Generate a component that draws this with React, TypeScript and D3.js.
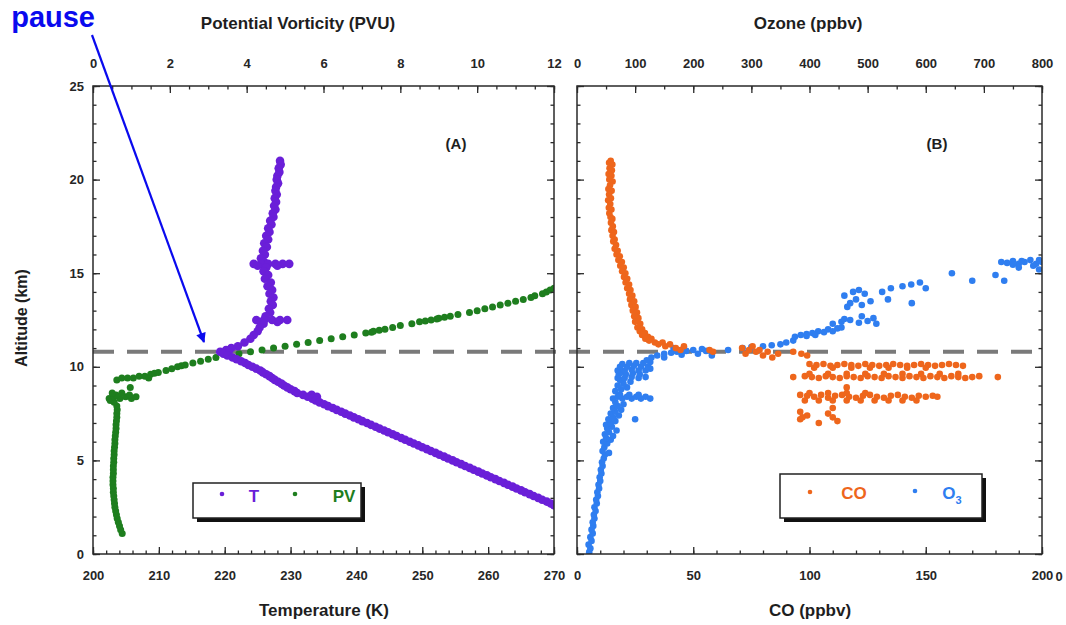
import React, { useEffect, useRef } from 'react';
import * as d3 from 'd3';

// tick labels
const tempTicks = [200, 210, 220, 230, 240, 250, 260, 270];
const pvTicks = [0, 2, 4, 6, 8, 10, 12];
const coTicks = [0, 50, 100, 150, 200];
const ozoneTicks = [0, 100, 200, 300, 400, 500, 600, 700, 800];
const altTicks = [0, 5, 10, 15, 20, 25];

const tropopauseAlt = 10.8;

// [altitude km, temperature K]
const tData: [number, number][] = [
  [21.0, 228.4], [20.8, 228.5], [20.6, 228.2], [20.4, 228.3], [20.2, 228.0], [20.0, 227.9], [19.8, 228.1],
  [19.6, 227.8], [19.4, 227.7], [19.2, 227.9], [19.0, 227.6], [18.8, 227.8], [18.6, 227.5], [18.4, 227.7],
  [18.2, 227.3], [18.0, 227.4], [17.8, 226.9], [17.6, 227.1], [17.4, 226.6], [17.2, 226.8], [17.0, 226.3],
  [16.8, 226.6], [16.6, 226.0], [16.4, 226.4], [16.2, 225.8], [16.0, 226.1], [15.8, 225.5], [15.6, 226.0],
  [15.5, 224.4], [15.5, 225.5], [15.5, 226.6], [15.5, 227.7], [15.5, 228.8], [15.5, 229.8], [15.4, 225.0],
  [15.4, 228.0], [15.3, 226.3], [15.1, 225.9], [14.9, 226.6], [14.7, 226.1], [14.5, 227.0], [14.3, 226.5],
  [14.1, 227.2], [13.9, 226.8], [13.7, 227.4], [13.5, 227.0], [13.3, 227.3], [13.1, 226.7], [12.9, 226.9],
  [12.7, 226.2], [12.5, 224.8], [12.5, 226.0], [12.5, 227.2], [12.5, 228.4], [12.5, 229.5], [12.4, 225.5],
  [12.4, 228.0], [12.3, 225.9], [12.1, 225.3], [11.9, 225.0], [11.7, 224.4], [11.5, 223.9], [11.3, 223.0],
  [11.1, 222.0], [11.0, 221.0], [10.9, 220.2], [10.8, 219.3], [10.8, 220.6], [10.7, 219.8], [10.6, 220.4],
  [10.5, 221.2], [10.4, 221.8], [10.3, 222.5], [10.2, 223.1], [10.1, 223.6], [10.0, 224.2], [9.9, 224.8],
  [9.8, 225.4], [9.7, 225.8], [9.6, 226.3], [9.5, 226.8], [9.4, 227.2], [9.3, 227.6], [9.2, 228.1],
  [9.1, 228.6], [9.0, 229.0], [8.9, 229.5], [8.8, 230.0], [8.7, 230.6], [8.6, 231.0], [8.5, 231.9],
  [8.5, 233.2], [8.4, 232.6], [8.4, 234.0], [8.3, 233.3], [8.2, 233.8], [8.1, 234.4], [8.0, 235.1],
  [7.9, 235.7], [7.8, 236.4], [7.7, 237.0], [7.6, 237.7], [7.5, 238.3], [7.4, 239.0], [7.3, 239.6],
  [7.2, 240.3], [7.1, 240.9], [7.0, 241.6], [6.9, 242.2], [6.8, 242.9], [6.7, 243.5], [6.6, 244.2],
  [6.5, 244.8], [6.4, 245.5], [6.3, 246.1], [6.2, 246.8], [6.1, 247.4], [6.0, 248.1], [5.9, 248.7],
  [5.8, 249.4], [5.7, 250.0], [5.6, 250.7], [5.5, 251.3], [5.4, 252.0], [5.3, 252.6], [5.2, 253.3],
  [5.1, 253.9], [5.0, 254.6], [4.9, 255.2], [4.8, 255.9], [4.7, 256.5], [4.6, 257.2], [4.5, 257.8],
  [4.4, 258.5], [4.3, 259.1], [4.2, 259.8], [4.1, 260.4], [4.0, 261.1], [3.9, 261.7], [3.8, 262.4],
  [3.7, 263.0], [3.6, 263.7], [3.5, 264.3], [3.4, 265.0], [3.3, 265.6], [3.2, 266.3], [3.1, 266.9],
  [3.0, 267.6], [2.9, 268.2], [2.8, 268.9], [2.7, 269.5], [2.6, 270.0],
];

// [altitude km, PV]
const pvData: [number, number][] = [
  [1.1, 0.76], [1.3, 0.72], [1.5, 0.69], [1.7, 0.66], [1.9, 0.63], [2.1, 0.61], [2.3, 0.59], [2.5, 0.57],
  [2.7, 0.56], [2.9, 0.55], [3.1, 0.54], [3.3, 0.53], [3.5, 0.53], [3.7, 0.52], [3.9, 0.52], [4.1, 0.52],
  [4.3, 0.53], [4.5, 0.53], [4.7, 0.53], [4.9, 0.54], [5.1, 0.54], [5.3, 0.55], [5.5, 0.55], [5.7, 0.56],
  [5.9, 0.57], [6.1, 0.57], [6.3, 0.58], [6.5, 0.59], [6.7, 0.6], [6.9, 0.6], [7.1, 0.61], [7.3, 0.62],
  [7.5, 0.62], [7.7, 0.63], [7.9, 0.62], [8.1, 0.55], [8.2, 0.45], [8.3, 0.42], [8.4, 0.55], [8.3, 0.7],
  [8.4, 0.85], [8.3, 1.0], [8.4, 1.12], [8.5, 0.6], [8.5, 0.95], [8.6, 0.5], [8.6, 0.75], [8.9, 0.97],
  [9.3, 0.62], [9.4, 0.75], [9.4, 0.9], [9.4, 1.05], [9.5, 1.2], [9.5, 1.35], [9.4, 1.45],
  [9.6, 1.5], [9.65, 1.6], [9.7, 1.7], [9.8, 1.9], [9.9, 2.05], [10.0, 2.2], [10.05, 2.3], [10.1, 2.4],
  [10.2, 2.6], [10.3, 2.8], [10.4, 3.0], [10.5, 3.2], [10.6, 3.5], [10.7, 3.8], [10.8, 4.1], [10.9, 4.4],
  [11.0, 4.7], [11.1, 5.0], [11.2, 5.3], [11.3, 5.6], [11.4, 5.9], [11.5, 6.2], [11.6, 6.5], [11.7, 6.8],
  [11.8, 7.1], [11.85, 7.25], [11.9, 7.3], [11.95, 7.45], [12.0, 7.6], [12.1, 7.8], [12.2, 8.0], [12.3, 8.3],
  [12.4, 8.5], [12.45, 8.65], [12.5, 8.8], [12.55, 8.95], [12.6, 9.0], [12.65, 9.15], [12.7, 9.3],
  [12.8, 9.5], [12.9, 9.8], [13.0, 10.0], [13.1, 10.2], [13.2, 10.4], [13.3, 10.6], [13.4, 10.8],
  [13.5, 11.0], [13.6, 11.2], [13.7, 11.4], [13.8, 11.5], [13.9, 11.7], [14.0, 11.8], [14.1, 11.9], [14.2, 12.0],
];

// [altitude km, CO ppbv]
const coData: [number, number][] = [
  [21.0, 14.5], [20.9, 13.8], [20.8, 15.2], [20.6, 14.0], [20.5, 15.0], [20.3, 13.6], [20.2, 14.8], [20.0, 13.9],
  [19.9, 15.3], [19.7, 14.2], [19.5, 13.5], [19.4, 14.9], [19.2, 13.8], [19.0, 14.6], [18.9, 13.4], [18.7, 14.3],
  [18.5, 13.7], [18.4, 14.8], [18.2, 13.9], [18.0, 14.4], [17.9, 15.2], [17.7, 14.6], [17.5, 15.4], [17.3, 14.8],
  [17.2, 15.9], [17.0, 15.3], [16.8, 16.2], [16.7, 15.6], [16.5, 16.8], [16.3, 16.2], [16.2, 17.5], [16.0, 17.0],
  [15.9, 18.4], [15.7, 17.8], [15.6, 19.3], [15.4, 18.6], [15.3, 20.1], [15.1, 19.4], [15.0, 20.8], [14.8, 20.2],
  [14.7, 21.6], [14.5, 20.9], [14.4, 22.4], [14.2, 21.6], [14.1, 23.0], [13.9, 22.4], [13.8, 23.8], [13.6, 22.8],
  [13.5, 24.6], [13.3, 23.4], [13.2, 25.2], [13.0, 24.0], [12.9, 25.8], [12.7, 24.6], [12.6, 26.4], [12.4, 25.0],
  [12.3, 27.2], [12.1, 26.0], [12.0, 28.0], [11.9, 27.0], [11.8, 29.2], [11.7, 28.0], [11.6, 30.5], [11.5, 29.4],
  [11.5, 32.0], [11.4, 31.0], [11.3, 33.5], [11.2, 35.0], [11.3, 36.8], [11.1, 38.0], [11.2, 40.0],
  [11.0, 42.5], [10.9, 44.5], [11.1, 46.0], [10.9, 57.0], [10.8, 58.5], [11.0, 71.0], [10.7, 72.5], [10.9, 74.0],
  [11.1, 75.5], [10.8, 77.0], [10.9, 78.5], [10.6, 80.0], [10.8, 82.0], [10.5, 84.0], [10.7, 86.5], [10.8, 93.0],
  [10.7, 96.5], [10.6, 99.0],
  [10.15, 100], [10.1, 103], [10.15, 106], [10.05, 109], [10.1, 112], [10.15, 115], [10.1, 118], [10.05, 121],
  [10.15, 124], [10.1, 127], [10.05, 130], [10.1, 133], [10.15, 136], [10.1, 139], [10.05, 142], [10.1, 145],
  [10.15, 148], [10.1, 151], [10.05, 154], [10.1, 157], [10.15, 160], [10.1, 163], [10.05, 166],
  [9.95, 102], [9.95, 110], [9.95, 118], [9.95, 126], [9.95, 134], [9.95, 142], [9.95, 150],
  [9.45, 93], [9.5, 98], [9.45, 101], [9.4, 104], [9.5, 107], [9.45, 110], [9.4, 113], [9.5, 116], [9.45, 119],
  [9.4, 122], [9.5, 125], [9.45, 128], [9.4, 131], [9.5, 134], [9.45, 137], [9.4, 140], [9.5, 143], [9.45, 146],
  [9.4, 149], [9.5, 152], [9.45, 155], [9.4, 158], [9.5, 161], [9.45, 164], [9.4, 167], [9.45, 170], [9.5, 173],
  [9.45, 181],
  [9.62, 100], [9.62, 108], [9.62, 116], [9.62, 124], [9.62, 132], [9.62, 140], [9.62, 148], [9.62, 156], [9.62, 164],
  [8.5, 96], [8.45, 99], [8.4, 102], [8.5, 105], [8.35, 108], [8.45, 111], [8.5, 114], [8.4, 117], [8.35, 120],
  [8.45, 123], [8.5, 126], [8.4, 129], [8.35, 132], [8.45, 135], [8.5, 138], [8.4, 141], [8.35, 144], [8.45, 147],
  [8.4, 150], [8.45, 153], [8.4, 155],
  [8.2, 98], [8.2, 104], [8.2, 110], [8.2, 116], [8.2, 122], [8.2, 128], [8.2, 134], [8.2, 140], [8.2, 146],
  [8.6, 100], [8.6, 108], [8.6, 116], [8.6, 124],
  [7.6, 96], [7.4, 99], [7.2, 96], [7.5, 108], [7.3, 110], [7.1, 112], [7.0, 104], [7.3, 97], [8.9, 116], [7.8, 110],
];

// [altitude km, O3 ppbv]
const ozoneData: [number, number][] = [
  [0.1, 21], [0.3, 23], [0.5, 20], [0.7, 25], [0.9, 23], [1.1, 27], [1.3, 25], [1.5, 28], [1.7, 27], [1.9, 30],
  [2.1, 29], [2.3, 32], [2.5, 30], [2.7, 34], [2.9, 33], [3.1, 36], [3.3, 35], [3.5, 38], [3.7, 37], [3.9, 40],
  [4.1, 39], [4.3, 42], [4.5, 41], [4.7, 44], [4.9, 43], [5.1, 46], [5.3, 48], [5.4, 55], [5.5, 44], [5.7, 47],
  [5.9, 52], [6.0, 45], [6.1, 58], [6.2, 50], [6.3, 62], [6.4, 48], [6.5, 55], [6.6, 68], [6.7, 52], [6.8, 60],
  [6.9, 50], [7.0, 58], [7.1, 66], [7.2, 54], [7.3, 62], [7.4, 72], [7.2, 100], [7.5, 58], [7.6, 66], [7.7, 76],
  [7.8, 62], [7.9, 70], [8.0, 80], [8.1, 66],
  [8.3, 62], [8.4, 70], [8.3, 78], [8.4, 86], [8.3, 94], [8.4, 102], [8.3, 110], [8.4, 118], [8.3, 126],
  [8.5, 74], [8.5, 90], [8.5, 106], [8.7, 66], [8.8, 76], [8.9, 86], [9.0, 70], [9.1, 80], [9.2, 92], [9.3, 74],
  [9.4, 70], [9.4, 82], [9.45, 94], [9.4, 106], [9.45, 118], [9.6, 72], [9.6, 84], [9.65, 96], [9.6, 108],
  [9.7, 76], [9.8, 70], [9.8, 82], [9.85, 94], [9.8, 106], [9.8, 118], [9.9, 126], [10.0, 74], [10.0, 86],
  [10.05, 98], [10.0, 110], [10.0, 122], [10.15, 78], [10.2, 90], [10.2, 102], [10.2, 114], [10.25, 126], [10.35, 120],
  [10.5, 128], [10.6, 138], [10.7, 150], [10.75, 162], [10.8, 172], [10.65, 180], [10.85, 188], [10.9, 200],
  [10.7, 208], [10.95, 215], [10.85, 222], [10.6, 232], [10.5, 150], [11.0, 166],
  [10.9, 260], [11.0, 285], [11.05, 300], [11.1, 320], [11.15, 335], [11.2, 350], [11.3, 360], [11.4, 372],
  [11.6, 375], [11.7, 385], [11.75, 395], [11.8, 405], [11.9, 415], [11.85, 425], [12.0, 432], [11.9, 440],
  [12.05, 448], [11.7, 410], [11.65, 395], [12.1, 455],
  [12.3, 440], [12.4, 455], [12.5, 470], [12.35, 485], [12.45, 500], [12.6, 510], [12.3, 515], [12.55, 460], [12.7, 490],
  [13.2, 465], [13.4, 470], [13.6, 480], [13.8, 460], [14.0, 475], [13.9, 495], [13.5, 505], [13.3, 490], [14.1, 485],
  [14.0, 525], [14.2, 540], [14.3, 560], [14.4, 575], [14.5, 590], [14.2, 600], [13.6, 535], [13.4, 576],
  [15.0, 645], [14.6, 680], [14.9, 720], [14.6, 735],
  [15.6, 730], [15.55, 740], [15.65, 750], [15.5, 760], [15.6, 770], [15.7, 780], [15.5, 790], [15.6, 800],
  [15.55, 810], [15.45, 750], [15.65, 765], [15.4, 785], [15.7, 795], [15.2, 795], [15.0, 805], [15.3, 760],
];

const PURPLE = '#6a1fd8';
const GREEN = '#1e7e1e';
const ORANGE = '#ee661c';
const BLUE = '#2f7ef0';
const FONT = '"Liberation Sans", Arial, Helvetica, sans-serif';

const App = () => {
  const ref = useRef<SVGSVGElement>(null);

  useEffect(() => {
    const svg = d3.select(ref.current);
    svg.selectAll('*').remove();

    const top = 86, bottom = 554;
    const left = { x0: 93, x1: 554 };
    const right = { x0: 577, x1: 1042 };

    const y = d3.scaleLinear().domain([0, 25]).range([bottom, top]);
    const xT = d3.scaleLinear().domain([200, 270]).range([left.x0, left.x1]);
    const xPV = d3.scaleLinear().domain([0, 12]).range([left.x0, left.x1]);
    const xCO = d3.scaleLinear().domain([0, 200]).range([right.x0, right.x1]);
    const xO3 = d3.scaleLinear().domain([0, 800]).range([right.x0, right.x1]);

    const defs = svg.append('defs');
    defs.append('clipPath').attr('id', 'clipL').append('rect')
      .attr('x', left.x0).attr('y', top).attr('width', left.x1 - left.x0).attr('height', bottom - top);
    defs.append('clipPath').attr('id', 'clipR').append('rect')
      .attr('x', right.x0).attr('y', top).attr('width', right.x1 - right.x0).attr('height', bottom - top);
    defs.append('marker').attr('id', 'arrow').attr('viewBox', '0 0 10 10')
      .attr('refX', 9).attr('refY', 5).attr('markerWidth', 5).attr('markerHeight', 4.5)
      .attr('orient', 'auto').attr('markerUnits', 'strokeWidth')
      .append('path').attr('d', 'M0,0L10,5L0,10Z').attr('fill', '#0a0aee');

    // tropopause line
    svg.append('line')
      .attr('x1', left.x0).attr('x2', right.x1)
      .attr('y1', y(tropopauseAlt)).attr('y2', y(tropopauseAlt))
      .attr('stroke', '#7a7a7a').attr('stroke-width', 4).attr('stroke-dasharray', '21,13');

    // dots
    const dots = (clip: string, data: [number, number][], x: d3.ScaleLinear<number, number>, color: string, r: number) => {
      svg.append('g').attr('clip-path', `url(#${clip})`)
        .selectAll('circle').data(data).join('circle')
        .attr('cx', d => x(d[1])).attr('cy', d => y(d[0]))
        .attr('r', r).attr('fill', color);
    };
    dots('clipL', pvData, xPV, GREEN, 3.5);
    dots('clipL', tData, xT, PURPLE, 4.3);
    dots('clipR', ozoneData, xO3, BLUE, 3.3);
    dots('clipR', coData, xCO, ORANGE, 3.3);

    // frames
    [left, right].forEach(p => {
      svg.append('rect').attr('x', p.x0).attr('y', top)
        .attr('width', p.x1 - p.x0).attr('height', bottom - top)
        .attr('fill', 'none').attr('stroke', '#2a2a2a').attr('stroke-width', 1.5);
    });

    const styleAxis = (g: d3.Selection<SVGGElement, unknown, null, undefined>) => {
      g.select('.domain').remove();
      g.selectAll('line').attr('stroke', '#2a2a2a').attr('stroke-width', 1.3);
      g.selectAll('text').attr('font-family', FONT).attr('font-weight', 'bold')
        .attr('font-size', 13).attr('fill', '#262626');
    };
    const none = () => '';
    const addAxis = (axis: d3.Axis<d3.NumberValue>, tx: number, ty: number) => {
      const g = svg.append('g').attr('transform', `translate(${tx},${ty})`).call(axis as any);
      styleAxis(g as any);
    };

    // left panel
    addAxis(d3.axisBottom(xT).tickValues(tempTicks).tickSize(-7).tickPadding(17).tickFormat(d3.format('d')), 0, bottom);
    addAxis(d3.axisBottom(xT).tickValues(d3.range(200, 271, 2)).tickSize(-3.5).tickFormat(none), 0, bottom);
    addAxis(d3.axisTop(xPV).tickValues(pvTicks).tickSize(-7).tickPadding(18).tickFormat(d3.format('d')), 0, top);
    addAxis(d3.axisTop(xPV).tickValues(d3.range(0, 12.01, 0.5)).tickSize(-3.5).tickFormat(none), 0, top);
    addAxis(d3.axisLeft(y).tickValues(altTicks).tickSize(-7).tickPadding(9).tickFormat(d3.format('d')), left.x0, 0);
    addAxis(d3.axisLeft(y).tickValues(d3.range(0, 26, 1)).tickSize(-3.5).tickFormat(none), left.x0, 0);
    addAxis(d3.axisRight(y).tickValues(altTicks).tickSize(-7).tickFormat(none), left.x1, 0);
    addAxis(d3.axisRight(y).tickValues(d3.range(0, 26, 1)).tickSize(-3.5).tickFormat(none), left.x1, 0);

    // right panel
    addAxis(d3.axisBottom(xCO).tickValues(coTicks).tickSize(-7).tickPadding(17).tickFormat(d3.format('d')), 0, bottom);
    addAxis(d3.axisBottom(xCO).tickValues(d3.range(0, 201, 10)).tickSize(-3.5).tickFormat(none), 0, bottom);
    addAxis(d3.axisTop(xO3).tickValues(ozoneTicks).tickSize(-7).tickPadding(18).tickFormat(d3.format('d')), 0, top);
    addAxis(d3.axisTop(xO3).tickValues(d3.range(0, 801, 50)).tickSize(-3.5).tickFormat(none), 0, top);
    addAxis(d3.axisLeft(y).tickValues(altTicks).tickSize(-7).tickFormat(none), right.x0, 0);
    addAxis(d3.axisLeft(y).tickValues(d3.range(0, 26, 1)).tickSize(-3.5).tickFormat(none), right.x0, 0);
    addAxis(d3.axisRight(y).tickValues(altTicks).tickSize(-7).tickFormat(none), right.x1, 0);
    addAxis(d3.axisRight(y).tickValues(d3.range(0, 26, 1)).tickSize(-3.5).tickFormat(none), right.x1, 0);

    // first label of the next panel, at the picture edge
    svg.append('text').attr('x', 1059).attr('y', 581).attr('text-anchor', 'middle')
      .attr('font-family', FONT).attr('font-weight', 'bold').attr('font-size', 13).attr('fill', '#262626')
      .text('0');

    const title = (text: string, x: number, yy: number, size = 17, rotate = false) => {
      const t = svg.append('text').attr('text-anchor', 'middle')
        .attr('font-family', FONT).attr('font-weight', 'bold').attr('font-size', size).attr('fill', '#1e1e1e')
        .text(text);
      if (rotate) t.attr('transform', `translate(${x},${yy}) rotate(-90)`);
      else t.attr('x', x).attr('y', yy);
    };
    title('Potential Vorticity (PVU)', 298, 29);
    title('Ozone (ppbv)', 808, 29);
    title('Temperature (K)', 324, 616);
    title('CO (ppbv)', 810, 616);
    title('Altitude (km)', 27, 318, 16, true);
    title('(A)', 456, 149, 15);
    title('(B)', 937, 149, 15);

    // legends
    const legend = (x: number, yy: number, w: number, h: number) => {
      svg.append('rect').attr('x', x + 4).attr('y', yy + 4).attr('width', w).attr('height', h).attr('fill', '#111');
      svg.append('rect').attr('x', x).attr('y', yy).attr('width', w).attr('height', h)
        .attr('fill', '#fff').attr('stroke', '#222').attr('stroke-width', 1.5);
    };
    const legendText = (text: string, x: number, yy: number, color: string) =>
      svg.append('text').attr('x', x).attr('y', yy).attr('text-anchor', 'middle')
        .attr('font-family', FONT).attr('font-weight', 'bold').attr('font-size', 17).attr('fill', color).text(text);

    legend(193, 483, 168, 35);
    svg.append('circle').attr('cx', 222).attr('cy', 494).attr('r', 2.3).attr('fill', PURPLE);
    legendText('T', 254, 502, PURPLE);
    svg.append('circle').attr('cx', 295).attr('cy', 494).attr('r', 2.3).attr('fill', GREEN);
    legendText('PV', 344, 502, GREEN);

    legend(780, 474, 202, 44);
    svg.append('circle').attr('cx', 810).attr('cy', 492).attr('r', 2.3).attr('fill', ORANGE);
    legendText('CO', 854, 499, ORANGE);
    svg.append('circle').attr('cx', 915).attr('cy', 491).attr('r', 2.3).attr('fill', BLUE);
    const o3 = legendText('O', 952, 499, BLUE);
    o3.append('tspan').attr('font-size', 11).attr('dy', 5).text('3');

    // tropopause annotation (only the end of the word fits in the picture)
    svg.append('text').attr('x', 95).attr('y', 27).attr('text-anchor', 'end')
      .attr('font-family', FONT).attr('font-weight', 'bold').attr('font-size', 29).attr('fill', '#0a0aee')
      .text('pause');
    svg.append('line').attr('x1', 92).attr('y1', 35).attr('x2', 204).attr('y2', 342)
      .attr('stroke', '#0a0aee').attr('stroke-width', 2.2).attr('marker-end', 'url(#arrow)');
  }, []);

  return (
    <svg ref={ref} width={1066} height={625}
      style={{ position: 'absolute', left: 0, top: 0, background: '#fff' }} />
  );
};

export default App;
